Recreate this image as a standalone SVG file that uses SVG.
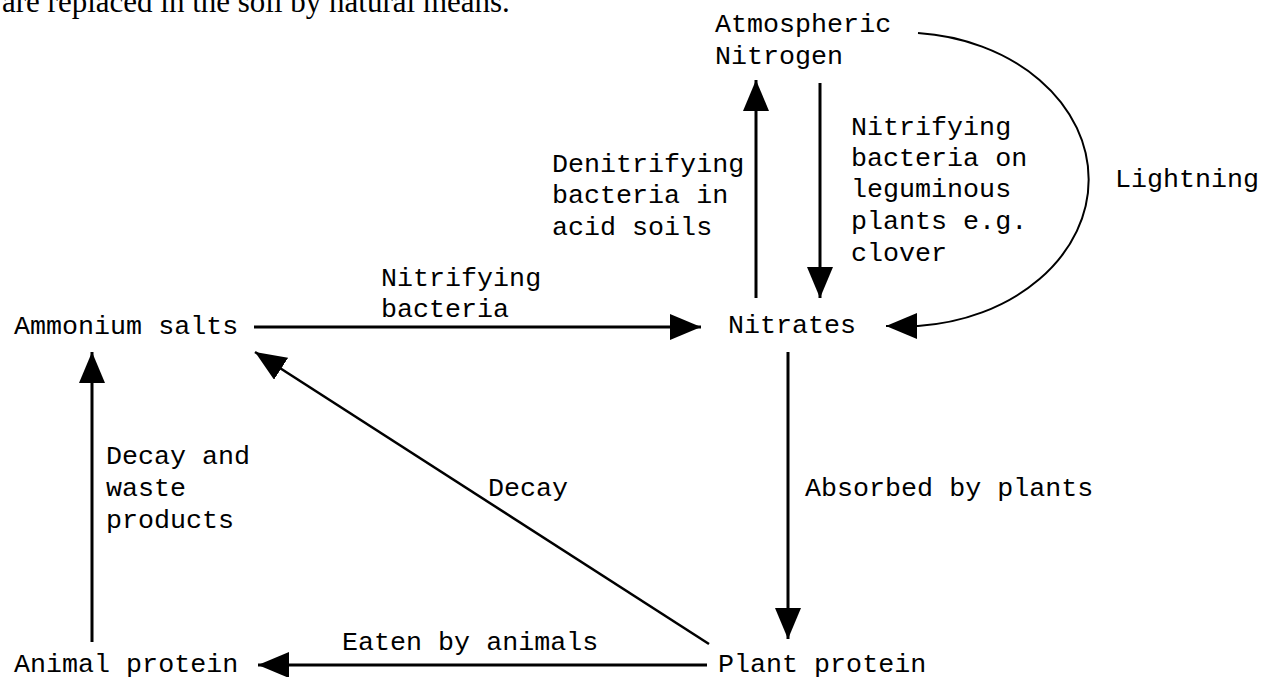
<svg xmlns="http://www.w3.org/2000/svg" width="1272" height="677" viewBox="0 0 1272 677">
  <style>
    text { font-family: "Liberation Mono", "Courier New", monospace; font-size: 26.7px; fill: #000; }
    .serif { font-family: "Liberation Serif", "Times New Roman", serif; font-size: 31px; }
    .conn { stroke: #000; stroke-width: 3; fill: none; marker-end: url(#arrow); }
    .thin { stroke-width: 2.5; }
    .curve { stroke-width: 2; }
  </style>
  <defs>
    <marker id="arrow" markerUnits="userSpaceOnUse" markerWidth="32" markerHeight="27" refX="31" refY="13" orient="auto">
      <path d="M0,0 L31,13 L0,26 Z" fill="#000"/>
    </marker>
  </defs>
  <rect width="1272" height="677" fill="#fff"/>

  <text class="serif" x="2" y="12">are replaced in the soil by natural means.</text>

  <g id="connectors">
    <line class="conn" x1="254" y1="327" x2="701" y2="327"/>
    <line class="conn" x1="756" y1="298" x2="756" y2="80"/>
    <line class="conn" x1="820" y1="83" x2="820" y2="298"/>
    <path class="conn curve" d="M918,33 A186,147 0 0 1 918,326 L886,326"/>
    <line class="conn" x1="788" y1="352" x2="788" y2="639"/>
    <line class="conn thin" x1="709" y1="644" x2="255" y2="352"/>
    <line class="conn" x1="707" y1="665" x2="258" y2="665"/>
    <line class="conn" x1="92" y1="642" x2="92" y2="352"/>
  </g>

  <g id="node-atmospheric-nitrogen">
    <text x="715" y="32">Atmospheric</text>
    <text x="715" y="64">Nitrogen</text>
  </g>
  <g id="node-nitrates"><text x="728" y="333">Nitrates</text></g>
  <g id="node-ammonium-salts"><text x="14" y="334">Ammonium salts</text></g>
  <g id="node-animal-protein"><text x="14" y="672">Animal protein</text></g>
  <g id="node-plant-protein"><text x="718" y="672">Plant protein</text></g>

  <g id="labels">
    <text x="381" y="286">Nitrifying</text>
    <text x="381" y="317">bacteria</text>
    <text x="552" y="172">Denitrifying</text>
    <text x="552" y="203">bacteria in</text>
    <text x="552" y="235">acid soils</text>
    <text x="851" y="135">Nitrifying</text>
    <text x="851" y="166">bacteria on</text>
    <text x="851" y="197">leguminous</text>
    <text x="851" y="229">plants e.g.</text>
    <text x="851" y="261">clover</text>
    <text x="1115" y="187">Lightning</text>
    <text x="805" y="496">Absorbed by plants</text>
    <text x="488" y="496">Decay</text>
    <text x="106" y="464">Decay and</text>
    <text x="106" y="496">waste</text>
    <text x="106" y="528">products</text>
    <text x="342" y="650">Eaten by animals</text>
  </g>
</svg>
